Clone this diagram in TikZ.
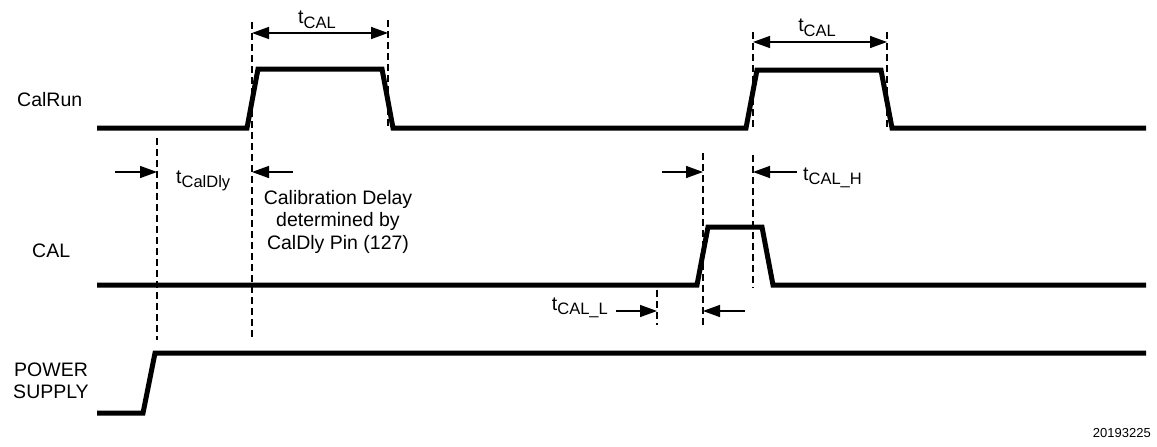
\documentclass[tikz,border=0pt]{standalone}
\usepackage{fontspec}
\setmainfont{Liberation Sans}
\usetikzlibrary{arrows.meta}
\newcommand{\tsub}[1]{t\raisebox{-0.45ex}{\fontsize{16.5}{17}\selectfont #1}}

\begin{document}
\begin{tikzpicture}[x=1pt,y=-1pt,
  sig/.style={line width=5pt},
  guide/.style={line width=1.4pt,dash pattern=on 7pt off 4pt},
  dim/.style={line width=1.5pt,-{Triangle[length=17pt,width=12pt]}},
  lbl/.style={font=\fontsize{19.5}{22.5}\selectfont,inner sep=0pt}]
\useasboundingbox (0,0) rectangle (1157,447);
% signals
\draw [sig](97,128) -- (247,128) -- (258,69) -- (382,69) -- (393,128) -- (746,128) -- (757,70) -- (881,70) -- (892,128) -- (1146,128);
\draw [sig](97,285) -- (697,285) -- (708,227) -- (762,227) -- (773,285) -- (1146,285);
\draw [sig](97,413) -- (143,413) -- (155,353) -- (1146,353);
% signal names
\node [lbl,anchor=base west] (calrun) at (17,106) {CalRun};
\node [lbl,anchor=base west] (cal) at (32,257) {CAL};
\node [lbl,align=center] (power) at (51,381) {POWER\\SUPPLY};
% dashed guides
\draw [guide](157,138) -- (157,340);
\draw [guide](252,22) -- (252,340);
\draw [guide](388,20) -- (388,128);
\draw [guide](753,32) -- (753,128);
\draw [guide](887,32) -- (887,128);
\draw [guide](753,155) -- (753,288);
\draw [guide](703,153) -- (703,325);
\draw [guide](657,290) -- (657,325);
% tCAL
\draw [dim,{Triangle[length=17pt,width=12pt]}-{Triangle[length=17pt,width=12pt]}](252,33) -- (388,33);
\node [lbl] (tcal1) at (317,20) {\tsub{CAL}};
\draw [dim,{Triangle[length=17pt,width=12pt]}-{Triangle[length=17pt,width=12pt]}](753,42) -- (887,42);
\node [lbl] (tcal2) at (817,28) {\tsub{CAL}};
% tCalDly
\draw [dim](115,172) -- (157,172);
\draw [dim](293,172) -- (252,172);
\node [lbl,anchor=west] (tdly) at (176,181) {\tsub{CalDly}};
\node [lbl,align=center,anchor=base] (note) at (338,249) {Calibration Delay\\determined by\\CalDly Pin (127)};
% tCAL_H
\draw [dim](662,172) -- (703,172);
\draw [dim](797,172) -- (753,172);
\node [lbl,anchor=west] (tcalh) at (803,178) {\tsub{CAL\_H}};
% tCAL_L
\draw [dim](616,311) -- (657,311);
\draw [dim](745,311) -- (703,311);
\node [lbl,anchor=east] (tcall) at (608,308) {\tsub{CAL\_L}};
% figure number
\node [inner sep=0pt,anchor=base east,font=\fontsize{13}{15}\selectfont] (fignum) at (1151,437) {20193225};
\end{tikzpicture}
\end{document}
